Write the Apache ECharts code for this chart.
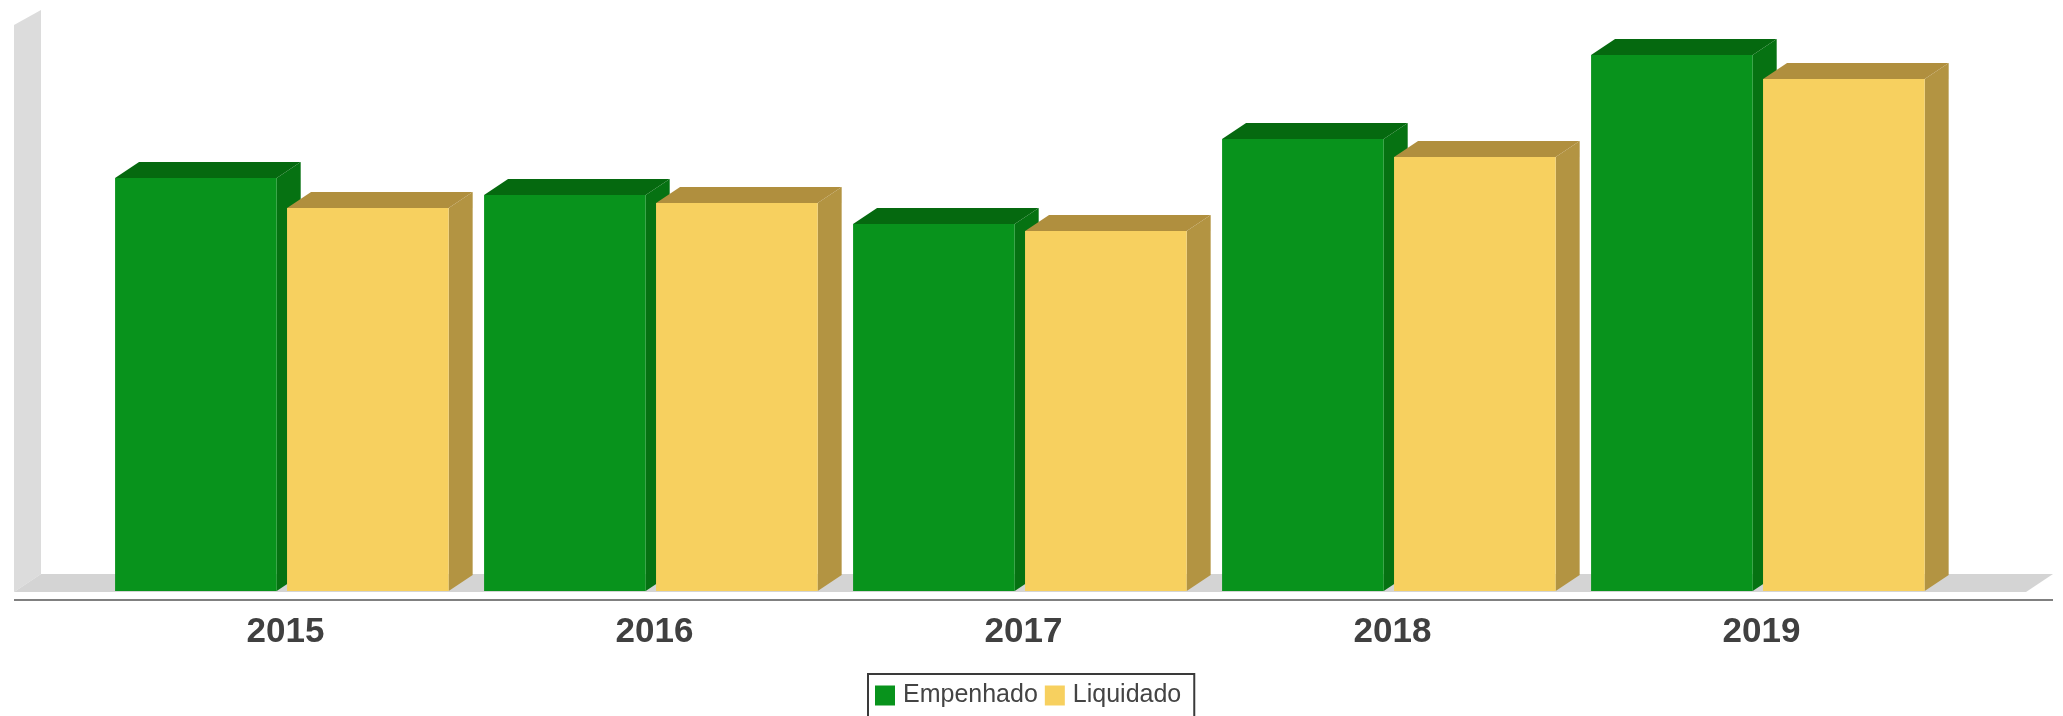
<!DOCTYPE html>
<html>
<head>
<meta charset="utf-8">
<title>Empenhado x Liquidado</title>
<script src="https://cdn.jsdelivr.net/npm/echarts@6/dist/echarts.min.js"></script>
<style>
  html, body { margin: 0; padding: 0; background: #ffffff; }
  #chart { width: 2063px; height: 716px; }
</style>
</head>
<body>
<div id="chart"></div>
<script>
// Years on the category axis
const years = ['2015', '2016', '2017', '2018', '2019'];
// Annual amounts per stage
const empenhado = [41.3, 39.6, 36.7, 45.2, 53.6];
const liquidado = [38.3, 38.8, 36.0, 43.4, 51.2];
const seriesNames = ['Empenhado', 'Liquidado'];

// Face colours for each 3D bar: front, top, side
const palette = [
  { front: '#08931C', top: '#05690F', side: '#067212' },
  { front: '#F7D05F', top: '#B08F3E', side: '#B39442' }
];

// Depth of the extruded bars
const DEPTH_X = 24;
const DEPTH_Y = 16;

function makeRenderer(seriesIdx) {
  const offsetRatio = seriesIdx === 0 ? 0.049 : 0.515;
  const widthRatio = 0.438;
  const colors = palette[seriesIdx];
  return function (params, api) {
    const idx = api.value(0);
    const val = api.value(1);
    const top = api.coord([idx, val]);
    const base = api.coord([idx, 0]);
    const band = api.size([1, 0])[0];
    const x0 = top[0] - band / 2 + band * offsetRatio;
    const w = band * widthRatio;
    const x1 = x0 + w;
    const yt = top[1];
    const yb = base[1];
    return {
      type: 'group',
      children: [
        {
          type: 'polygon',
          shape: { points: [[x1, yt], [x1 + DEPTH_X, yt - DEPTH_Y], [x1 + DEPTH_X, yb - DEPTH_Y], [x1, yb]] },
          style: { fill: colors.side }
        },
        {
          type: 'polygon',
          shape: { points: [[x0, yt], [x0 + DEPTH_X, yt - DEPTH_Y], [x1 + DEPTH_X, yt - DEPTH_Y], [x1, yt]] },
          style: { fill: colors.top }
        },
        {
          type: 'rect',
          shape: { x: x0, y: yt, width: w, height: yb - yt },
          style: { fill: colors.front }
        }
      ]
    };
  };
}

const chart = echarts.init(document.getElementById('chart'));
chart.setOption({
  backgroundColor: '#ffffff',
  animation: false,
  grid: { left: 97, right: 121, top: 51, bottom: 125 },
  xAxis: {
    type: 'category',
    data: years,
    axisLine: { show: false },
    axisTick: { show: false },
    axisLabel: {
      margin: 24,
      fontSize: 35,
      fontWeight: 'bold',
      color: '#404040',
      padding: [0, 0, 0, 8],
      fontFamily: 'Liberation Sans, Arial, sans-serif'
    }
  },
  yAxis: {
    type: 'value',
    min: 0,
    max: 54,
    show: false
  },
  legend: {
    data: seriesNames,
    left: 868,
    top: 674,
    orient: 'horizontal',
    icon: 'rect',
    itemWidth: 20,
    itemHeight: 20,
    itemGap: 7,
    padding: [9, 13, 9, 7],
    borderColor: '#3a3a3a',
    borderWidth: 2,
    textStyle: {
      fontSize: 25,
      color: '#444444',
      fontFamily: 'Liberation Sans, Arial, sans-serif',
      padding: [0, 0, 0, 3]
    }
  },
  graphic: [
    {
      type: 'polygon',
      z: -10,
      shape: { points: [[14, 25], [41, 10], [41, 574], [14, 592]] },
      style: { fill: '#DCDCDC' }
    },
    {
      type: 'polygon',
      z: -10,
      shape: { points: [[14, 592], [41, 574], [2053, 574], [2026, 592]] },
      style: { fill: '#D4D4D4' }
    },
    {
      type: 'line',
      z: -5,
      shape: { x1: 14, y1: 600, x2: 2053, y2: 600 },
      style: { stroke: '#808080', lineWidth: 2 }
    }
  ],
  series: [
    {
      name: seriesNames[0],
      type: 'custom',
      z: 5,
      itemStyle: { color: palette[0].front },
      encode: { x: 0, y: 1 },
      renderItem: makeRenderer(0),
      data: empenhado.map((v, i) => [i, v])
    },
    {
      name: seriesNames[1],
      type: 'custom',
      z: 6,
      itemStyle: { color: palette[1].front },
      encode: { x: 0, y: 1 },
      renderItem: makeRenderer(1),
      data: liquidado.map((v, i) => [i, v])
    }
  ]
});
</script>
</body>
</html>
